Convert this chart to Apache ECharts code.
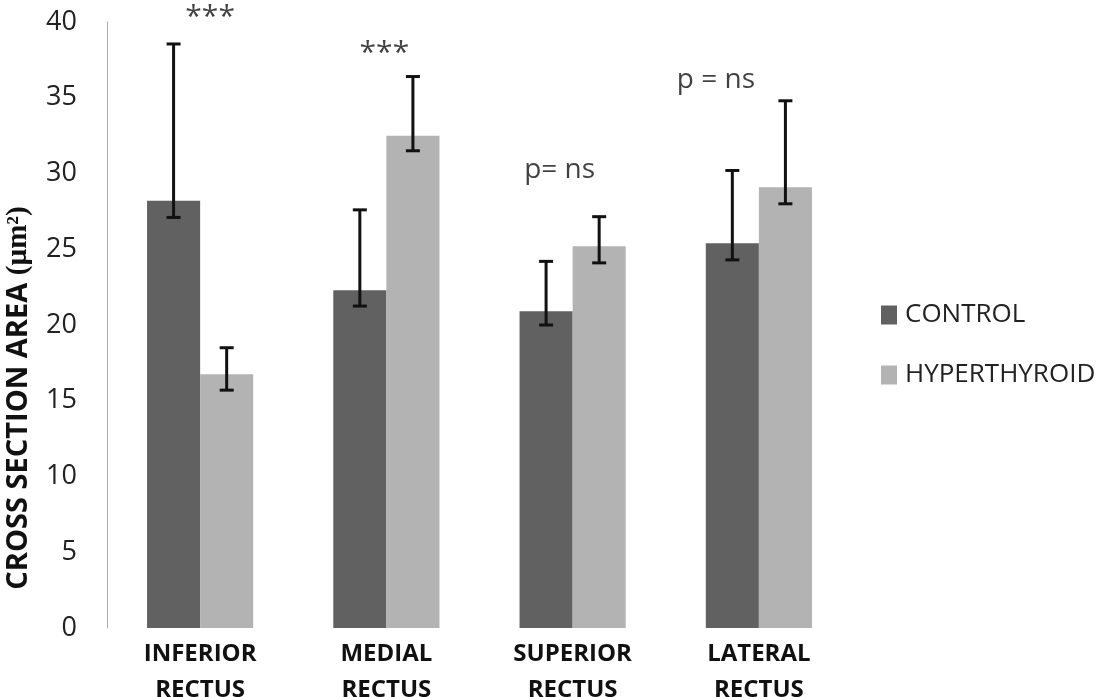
<!DOCTYPE html>
<html>
<head>
<meta charset="utf-8">
<script src="https://cdn.jsdelivr.net/npm/echarts@6/dist/echarts.min.js"></script>
<style>
  html, body { margin: 0; padding: 0; background: #fff; }
  #chart { width: 1100px; height: 697px; }
</style>
</head>
<body>
<div id="chart"></div>
<script>
var categories = ['INFERIOR\nRECTUS', 'MEDIAL\nRECTUS', 'SUPERIOR\nRECTUS', 'LATERAL\nRECTUS'];
var controlMean = [28.2, 22.3, 20.9, 25.4];
var controlLow = [27.1, 21.25, 20.0, 24.3];
var controlHigh = [38.55, 27.6, 24.2, 30.2];
var hyperMean = [16.75, 32.5, 25.2, 29.1];
var hyperLow = [15.7, 31.5, 24.1, 28.0];
var hyperHigh = [18.5, 36.4, 27.15, 34.8];
var annotText = ['***', '***', 'p= ns', 'p = ns'];
var annotValue = [40.3, 37.9, 30.2, 36.2];
var annotShift = [10, -2, -13, -43];
var annotSize = [30, 30, 28, 28];

var BAR_PCT = 0.285;
var fontMain = "'Open Sans', 'Noto Sans', sans-serif";

function errorSeries(name, low, high, side) {
  return {
    name: name,
    type: 'custom',
    z: 5,
    renderItem: function (params, api) {
      var i = api.value(0);
      var band = api.size([1, 0])[0];
      var off = side * band * BAR_PCT / 2;
      var top = api.coord([i, api.value(2)]);
      var bot = api.coord([i, api.value(1)]);
      var x = top[0] + off;
      var cap = 7;
      var st = { stroke: '#111', lineWidth: 3 };
      return {
        type: 'group',
        children: [
          { type: 'line', shape: { x1: x, y1: top[1], x2: x, y2: bot[1] }, style: st },
          { type: 'line', shape: { x1: x - cap, y1: top[1], x2: x + cap, y2: top[1] }, style: st },
          { type: 'line', shape: { x1: x - cap, y1: bot[1], x2: x + cap, y2: bot[1] }, style: st }
        ]
      };
    },
    data: low.map(function (v, i) { return [i, v, high[i]]; }),
    tooltip: { show: false }
  };
}

var chart = echarts.init(document.getElementById('chart'));
chart.setOption({
  animation: false,
  grid: { left: 107, right: 248, top: 22, bottom: 69, containLabel: false, outerBoundsMode: 'none' },
  legend: {
    orient: 'vertical',
    left: 876,
    top: 297,
    itemWidth: 16,
    itemHeight: 19,
    itemGap: 34,
    icon: 'rect',
    data: ['CONTROL', 'HYPERTHYROID'],
    textStyle: { fontFamily: fontMain, fontSize: 26, color: '#222', padding: [0, 0, 0, 3] }
  },
  xAxis: {
    type: 'category',
    data: categories,
    axisLine: { show: false },
    axisTick: { show: false },
    axisLabel: {
      margin: 8,
      fontFamily: fontMain,
      fontWeight: 'bold',
      fontSize: 24,
      lineHeight: 36,
      color: '#111'
    }
  },
  yAxis: {
    type: 'value',
    min: 0,
    max: 40,
    interval: 5,
    splitLine: { show: false },
    axisTick: { show: false },
    axisLine: { show: true, lineStyle: { color: '#aaaaaa', width: 1 } },
    axisLabel: { margin: 30, fontFamily: fontMain, fontSize: 27, color: '#222' }
  },
  graphic: [{
    type: 'text',
    x: 19,
    y: 398,
    rotation: Math.PI / 2,
    style: {
      text: 'CROSS SECTION AREA {s|(µm²)}',
      fontFamily: fontMain,
      fontWeight: 'bold',
      fontSize: 29,
      fill: '#111',
      align: 'center',
      verticalAlign: 'middle',
      rich: { s: { fontFamily: "'Liberation Serif', serif", fontWeight: 'bold', fontSize: 29, fill: '#111' } }
    }
  }],
  series: [
    {
      name: 'CONTROL',
      type: 'bar',
      barWidth: (BAR_PCT * 100) + '%',
      barGap: '0%',
      itemStyle: { color: '#616161' },
      data: controlMean
    },
    {
      name: 'HYPERTHYROID',
      type: 'bar',
      barWidth: (BAR_PCT * 100) + '%',
      barGap: '0%',
      itemStyle: { color: '#b3b3b3' },
      data: hyperMean
    },
    errorSeries('CONTROL', controlLow, controlHigh, -1),
    errorSeries('HYPERTHYROID', hyperLow, hyperHigh, 1),
    {
      name: 'annot',
      type: 'scatter',
      symbolSize: 0,
      clip: false,
      silent: true,
      data: annotValue.map(function (v, i) {
        return {
          value: [i, v, annotText[i]],
          label: { fontSize: annotSize[i], offset: [annotShift[i], 0] }
        };
      }),
      label: {
        show: true,
        position: 'inside',
        fontFamily: fontMain,
        color: '#111',
        formatter: function (p) { return p.value[2]; }
      }
    }
  ]
});
</script>
</body>
</html>
